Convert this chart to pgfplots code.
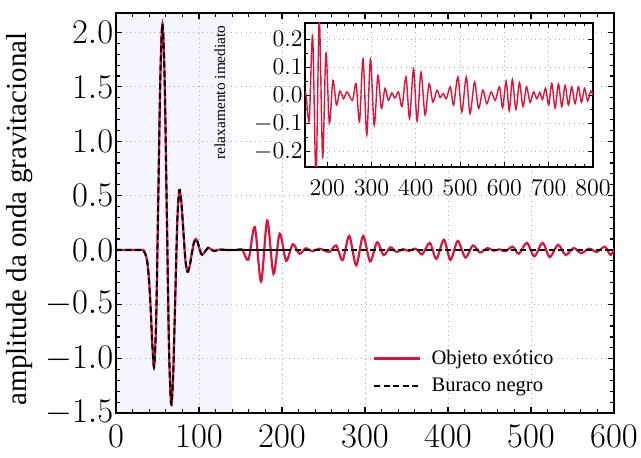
\documentclass[border=0pt]{standalone}
\usepackage{fontspec}
\setmainfont{Liberation Serif}
\usepackage{pgfplots}
\pgfplotsset{compat=1.18}
\usepackage{pgfplotstable}
\definecolor{eco}{RGB}{220,20,60}
\definecolor{shade}{RGB}{244,245,253}

% sinal do objeto exotico (fusao + ecos)
\pgfplotstableread{
x y
0 0
30 0
33 -0.005
36 -0.05
38 -0.13
40 -0.3
42 -0.58
44 -0.9
46 -1.07
48.5 -0.61
51 0.505
53.5 1.619
56 2.08
58.6 1.567
61.25 0.33
63.9 -0.907
66.5 -1.42
68.95 -1.131
71.4 -0.435
73.85 0.261
76.3 0.55
78.7 0.44
81.15 0.175
83.6 -0.09
86 -0.2
88.5 -0.156
91 -0.05
93.5 0.056
96 0.1
98 0.079
100 0.0275
102 -0.024
104 -0.045
107.5 -0.0125
111 0.02
114.5 0.005
118 -0.01
125 0.004
132 0
145 0
152 0.005
159.5 -0.09
167.2 0.21
174.8 -0.29
182.2 0.27
189.8 -0.22
197.2 0.15
205 -0.10
213 0.053
221 -0.035
228.6 0.015
237 -0.012
245 0.012
257 -0.018
265.3 0.041
273 -0.094
281 0.129
289.4 -0.141
297.7 0.129
306.2 -0.106
314.5 0.07
322.5 -0.047
330.5 0.024
338 -0.018
346 0.008
353 -0.01
361 0.012
369 -0.04
378 0.065
386 -0.082
395 0.094
403 -0.092
411.7 0.082
421 -0.07
430 0.041
438.7 -0.024
447.7 0.018
455 -0.008
462 0.006
469 -0.012
477.9 0.03
485.3 -0.035
495 0.065
504 -0.059
514 0.065
522.5 -0.065
532.7 0.047
541.7 -0.047
551.4 0.018
560.4 -0.03
570 0.012
579.3 -0.018
589 0.03
596 -0.045
604 0.05
611 -0.055
618 0.056
626 -0.05
634 0.045
642 -0.04
650 0.03
658 -0.025
666 0.012
673 -0.012
680 0.01
686 -0.015
693 0.025
700 -0.035
707 0.042
714.5 -0.045
722 0.04
729.5 -0.04
737 0.035
744.5 -0.035
752 0.03
759.5 -0.03
767 0.03
774 -0.025
781 0.025
788 -0.02
795 0.015
800 0
}\exotico

% buraco negro: so a fusao
\pgfplotstableread{
x y
0 0
30 0
33 -0.005
36 -0.05
38 -0.13
40 -0.3
42 -0.58
44 -0.9
46 -1.07
48.5 -0.61
51 0.505
53.5 1.619
56 2.08
58.6 1.567
61.25 0.33
63.9 -0.907
66.5 -1.42
68.95 -1.131
71.4 -0.435
73.85 0.261
76.3 0.55
78.7 0.44
81.15 0.175
83.6 -0.09
86 -0.2
88.5 -0.156
91 -0.05
93.5 0.056
96 0.1
98 0.079
100 0.0275
102 -0.024
104 -0.045
107.5 -0.0125
111 0.02
114.5 0.005
118 -0.01
125 0.004
132 0
}\buraco

\begin{document}
\begin{tikzpicture}
\begin{axis}[
  set layers,
  at={(0,0)}, anchor=south west,
  scale only axis, width=249pt, height=200pt,
  xmin=0, xmax=600, ymin=-1.5, ymax=2.18,
  xtick={0,100,...,600}, ytick={-1.5,-1,...,2},
  minor x tick num=4, minor y tick num=4,
  tick align=inside,
  major tick length=3.2pt, minor tick length=1.8pt,
  tick style={black, line width=0.6pt},
  axis line style={line width=1.2pt},
  grid=major, grid style={dotted, line width=0.5pt, black!32},
  tick label style={font=\fontsize{16.5}{19}\selectfont},
  yticklabel style={/pgf/number format/fixed, /pgf/number format/fixed zerofill,
    /pgf/number format/precision=1, inner xsep=1.2pt},
  xticklabel style={yshift=-2.5pt},
  ylabel={amplitude da onda gravitacional},
  ylabel style={at={(axis description cs:-0.193,0.485)}, anchor=center,
    font=\fontsize{14.5}{17}\selectfont},
  legend style={draw=none, fill=none, at={(0.516,0.045)}, anchor=south west,
    font=\fontsize{10.3}{12}\selectfont, row sep=5.5pt, column sep=5pt,
    inner sep=0pt, nodes={inner sep=0pt}},
  legend cell align=left,
  legend image code/.code={\draw[#1] (0pt,0pt) -- (23pt,0pt);},
]
\addplot[fill=shade, draw=none, on layer=axis background, forget plot]
  coordinates {(0,-1.5) (140,-1.5) (140,2.18) (0,2.18)} -- cycle;
\addplot[eco, line width=1.1pt, smooth] table {\exotico};
\addlegendentry{Objeto exótico}
\addplot[black, line width=1pt, dash pattern=on 3pt off 1.7pt, smooth] table {\buraco};
\addlegendentry{Buraco negro}
\addplot[black, line width=1pt, forget plot] coordinates {(125,0) (204,0)};
\addplot[black, line width=1pt, dash pattern=on 3pt off 1.7pt, forget plot]
  coordinates {(204,0) (600,0)};
\node[rotate=90, font=\fontsize{7.7}{9}\selectfont] at (axis cs:125,1.45) {relaxamento imediato};
\end{axis}

\begin{axis}[
  at={(94.5pt,123pt)}, anchor=south west,
  scale only axis, width=144pt, height=72pt,
  xmin=150, xmax=800, ymin=-0.255, ymax=0.257,
  axis background/.style={fill=white},
  xtick={200,300,...,800}, ytick={-0.2,-0.1,0,0.1,0.2},
  minor x tick num=4, minor y tick num=1,
  tick align=inside,
  major tick length=2.5pt, minor tick length=1.4pt,
  tick style={black, line width=0.5pt},
  axis line style={line width=1.2pt},
  grid=major, grid style={dotted, line width=0.5pt, black!32},
  tick label style={font=\fontsize{11.5}{13}\selectfont},
  yticklabel style={/pgf/number format/fixed, /pgf/number format/fixed zerofill,
    /pgf/number format/precision=1, inner xsep=1pt},
  xticklabel style={yshift=-3pt},
]
\addplot[eco, line width=0.7pt, smooth] table {\exotico};
\end{axis}
\pgfresetboundingbox
\useasboundingbox (-58pt,-22.5pt) rectangle (262.5pt,206.5pt);
\end{tikzpicture}
\end{document}
